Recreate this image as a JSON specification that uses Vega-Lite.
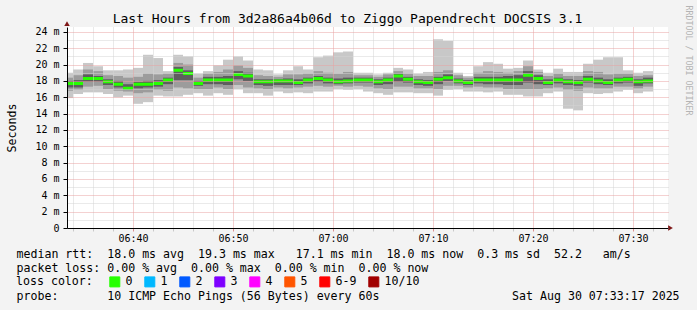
{
  "$schema": "https://vega.github.io/schema/vega-lite/v6.json",
  "width": 601,
  "height": 201,
  "autosize": {"type": "none"},
  "padding": {"left": 67, "top": 27, "right": 29, "bottom": 82},
  "background": "#f3f3f3",
  "config": {"font": "DejaVu Sans Mono", "view": {"fill": "white", "stroke": null}},
  "title": {
    "text": "Last Hours from 3d2a86a4b06d to Ziggo Papendrecht DOCSIS 3.1",
    "font": "DejaVu Sans Mono", "fontSize": 13, "fontWeight": "normal", "color": "#000000",
    "anchor": "middle", "frame": "group", "dx": -20, "baseline": "alphabetic", "offset": -31
  },
  "data": {"values": [
    {"t":"2025-08-30T06:33:00Z","t2":"2025-08-30T06:34:00Z","lo1":15.9,"lo2":16.8,"lo3":17.2,"med":17.7,"hi3":18.0,"hi2":18.4,"hi1":19.0,"loss":"0"},
    {"t":"2025-08-30T06:34:00Z","t2":"2025-08-30T06:35:00Z","lo1":16.4,"lo2":16.9,"lo3":17.2,"med":17.7,"hi3":18.1,"hi2":18.7,"hi1":19.4,"loss":"0"},
    {"t":"2025-08-30T06:35:00Z","t2":"2025-08-30T06:36:00Z","lo1":16.6,"lo2":17.3,"lo3":17.9,"med":18.3,"hi3":18.8,"hi2":19.4,"hi1":20.2,"loss":"0"},
    {"t":"2025-08-30T06:36:00Z","t2":"2025-08-30T06:37:00Z","lo1":16.6,"lo2":17.4,"lo3":17.9,"med":18.3,"hi3":18.6,"hi2":19.2,"hi1":19.8,"loss":"0"},
    {"t":"2025-08-30T06:37:00Z","t2":"2025-08-30T06:38:00Z","lo1":16.4,"lo2":17.0,"lo3":17.5,"med":17.9,"hi3":18.2,"hi2":18.7,"hi1":19.3,"loss":"0"},
    {"t":"2025-08-30T06:38:00Z","t2":"2025-08-30T06:39:00Z","lo1":16.0,"lo2":16.8,"lo3":17.2,"med":17.6,"hi3":18.0,"hi2":18.6,"hi1":19.3,"loss":"0"},
    {"t":"2025-08-30T06:39:00Z","t2":"2025-08-30T06:40:00Z","lo1":16.2,"lo2":16.7,"lo3":16.9,"med":17.1,"hi3":17.6,"hi2":18.4,"hi1":19.4,"loss":"0"},
    {"t":"2025-08-30T06:40:00Z","t2":"2025-08-30T06:41:00Z","lo1":15.2,"lo2":16.5,"lo3":17.1,"med":17.6,"hi3":17.9,"hi2":18.5,"hi1":19.6,"loss":"0"},
    {"t":"2025-08-30T06:41:00Z","t2":"2025-08-30T06:42:00Z","lo1":15.4,"lo2":16.6,"lo3":17.2,"med":17.6,"hi3":18.0,"hi2":18.9,"hi1":21.2,"loss":"0"},
    {"t":"2025-08-30T06:42:00Z","t2":"2025-08-30T06:43:00Z","lo1":16.2,"lo2":16.9,"lo3":17.3,"med":17.7,"hi3":18.1,"hi2":18.8,"hi1":20.8,"loss":"0"},
    {"t":"2025-08-30T06:43:00Z","t2":"2025-08-30T06:44:00Z","lo1":16.1,"lo2":16.8,"lo3":17.6,"med":18.1,"hi3":18.4,"hi2":18.9,"hi1":19.2,"loss":"0"},
    {"t":"2025-08-30T06:44:00Z","t2":"2025-08-30T06:45:00Z","lo1":16.1,"lo2":17.2,"lo3":18.1,"med":19.3,"hi3":19.7,"hi2":20.2,"hi1":21.2,"loss":"0"},
    {"t":"2025-08-30T06:45:00Z","t2":"2025-08-30T06:46:00Z","lo1":16.3,"lo2":17.1,"lo3":18.1,"med":18.9,"hi3":19.3,"hi2":20.0,"hi1":21.0,"loss":"0"},
    {"t":"2025-08-30T06:46:00Z","t2":"2025-08-30T06:47:00Z","lo1":16.5,"lo2":17.0,"lo3":17.4,"med":17.7,"hi3":18.0,"hi2":18.4,"hi1":18.9,"loss":"0"},
    {"t":"2025-08-30T06:47:00Z","t2":"2025-08-30T06:48:00Z","lo1":16.2,"lo2":17.0,"lo3":17.6,"med":18.1,"hi3":18.5,"hi2":18.9,"hi1":19.2,"loss":"0"},
    {"t":"2025-08-30T06:48:00Z","t2":"2025-08-30T06:49:00Z","lo1":16.5,"lo2":17.2,"lo3":17.6,"med":18.1,"hi3":18.5,"hi2":19.1,"hi1":19.9,"loss":"0"},
    {"t":"2025-08-30T06:49:00Z","t2":"2025-08-30T06:50:00Z","lo1":16.3,"lo2":17.0,"lo3":17.5,"med":18.1,"hi3":18.6,"hi2":19.4,"hi1":20.6,"loss":"0"},
    {"t":"2025-08-30T06:50:00Z","t2":"2025-08-30T06:51:00Z","lo1":17.0,"lo2":17.5,"lo3":18.2,"med":18.8,"hi3":19.2,"hi2":19.9,"hi1":21.0,"loss":"0"},
    {"t":"2025-08-30T06:51:00Z","t2":"2025-08-30T06:52:00Z","lo1":16.5,"lo2":17.2,"lo3":18.0,"med":18.6,"hi3":19.0,"hi2":19.6,"hi1":20.5,"loss":"0"},
    {"t":"2025-08-30T06:52:00Z","t2":"2025-08-30T06:53:00Z","lo1":16.5,"lo2":17.1,"lo3":17.5,"med":17.9,"hi3":18.2,"hi2":18.7,"hi1":19.4,"loss":"0"},
    {"t":"2025-08-30T06:53:00Z","t2":"2025-08-30T06:54:00Z","lo1":16.2,"lo2":17.0,"lo3":17.4,"med":17.9,"hi3":18.2,"hi2":18.6,"hi1":19.3,"loss":"0"},
    {"t":"2025-08-30T06:54:00Z","t2":"2025-08-30T06:55:00Z","lo1":16.7,"lo2":17.2,"lo3":17.5,"med":18.0,"hi3":18.2,"hi2":18.5,"hi1":18.8,"loss":"0"},
    {"t":"2025-08-30T06:55:00Z","t2":"2025-08-30T06:56:00Z","lo1":16.5,"lo2":17.1,"lo3":17.5,"med":18.0,"hi3":18.3,"hi2":18.8,"hi1":19.3,"loss":"0"},
    {"t":"2025-08-30T06:56:00Z","t2":"2025-08-30T06:57:00Z","lo1":16.6,"lo2":17.2,"lo3":17.5,"med":17.8,"hi3":18.2,"hi2":18.8,"hi1":19.8,"loss":"0"},
    {"t":"2025-08-30T06:57:00Z","t2":"2025-08-30T06:58:00Z","lo1":16.5,"lo2":17.3,"lo3":17.7,"med":18.1,"hi3":18.4,"hi2":18.9,"hi1":19.4,"loss":"0"},
    {"t":"2025-08-30T06:58:00Z","t2":"2025-08-30T06:59:00Z","lo1":16.7,"lo2":17.4,"lo3":17.9,"med":18.3,"hi3":18.6,"hi2":19.2,"hi1":20.9,"loss":"0"},
    {"t":"2025-08-30T06:59:00Z","t2":"2025-08-30T07:00:00Z","lo1":16.7,"lo2":17.3,"lo3":17.7,"med":18.1,"hi3":18.4,"hi2":19.0,"hi1":21.1,"loss":"0"},
    {"t":"2025-08-30T07:00:00Z","t2":"2025-08-30T07:01:00Z","lo1":17.0,"lo2":17.4,"lo3":17.6,"med":17.9,"hi3":18.3,"hi2":18.9,"hi1":21.5,"loss":"0"},
    {"t":"2025-08-30T07:01:00Z","t2":"2025-08-30T07:02:00Z","lo1":16.9,"lo2":17.3,"lo3":17.7,"med":18.0,"hi3":18.4,"hi2":19.1,"hi1":21.6,"loss":"0"},
    {"t":"2025-08-30T07:02:00Z","t2":"2025-08-30T07:03:00Z","lo1":17.0,"lo2":17.4,"lo3":17.8,"med":18.1,"hi3":18.4,"hi2":18.7,"hi1":19.0,"loss":"0"},
    {"t":"2025-08-30T07:03:00Z","t2":"2025-08-30T07:04:00Z","lo1":16.7,"lo2":17.3,"lo3":17.8,"med":18.1,"hi3":18.4,"hi2":18.7,"hi1":19.0,"loss":"0"},
    {"t":"2025-08-30T07:04:00Z","t2":"2025-08-30T07:05:00Z","lo1":16.5,"lo2":17.1,"lo3":17.5,"med":17.9,"hi3":18.2,"hi2":18.5,"hi1":18.8,"loss":"0"},
    {"t":"2025-08-30T07:05:00Z","t2":"2025-08-30T07:06:00Z","lo1":16.3,"lo2":17.0,"lo3":17.6,"med":18.1,"hi3":18.4,"hi2":18.8,"hi1":19.0,"loss":"0"},
    {"t":"2025-08-30T07:06:00Z","t2":"2025-08-30T07:07:00Z","lo1":16.6,"lo2":17.3,"lo3":17.9,"med":18.6,"hi3":18.9,"hi2":19.2,"hi1":19.6,"loss":"0"},
    {"t":"2025-08-30T07:07:00Z","t2":"2025-08-30T07:08:00Z","lo1":16.6,"lo2":17.3,"lo3":17.8,"med":18.2,"hi3":18.5,"hi2":18.9,"hi1":19.4,"loss":"0"},
    {"t":"2025-08-30T07:08:00Z","t2":"2025-08-30T07:09:00Z","lo1":16.5,"lo2":17.1,"lo3":17.5,"med":17.9,"hi3":18.2,"hi2":18.6,"hi1":18.9,"loss":"0"},
    {"t":"2025-08-30T07:09:00Z","t2":"2025-08-30T07:10:00Z","lo1":16.5,"lo2":17.1,"lo3":17.4,"med":17.8,"hi3":18.1,"hi2":18.6,"hi1":19.1,"loss":"0"},
    {"t":"2025-08-30T07:10:00Z","t2":"2025-08-30T07:11:00Z","lo1":16.2,"lo2":17.0,"lo3":17.6,"med":18.2,"hi3":18.5,"hi2":19.1,"hi1":23.1,"loss":"0"},
    {"t":"2025-08-30T07:11:00Z","t2":"2025-08-30T07:12:00Z","lo1":16.9,"lo2":17.4,"lo3":18.0,"med":18.4,"hi3":18.8,"hi2":19.3,"hi1":22.9,"loss":"0"},
    {"t":"2025-08-30T07:12:00Z","t2":"2025-08-30T07:13:00Z","lo1":17.0,"lo2":17.4,"lo3":17.7,"med":18.0,"hi3":18.3,"hi2":18.7,"hi1":19.0,"loss":"0"},
    {"t":"2025-08-30T07:13:00Z","t2":"2025-08-30T07:14:00Z","lo1":16.7,"lo2":17.2,"lo3":17.5,"med":17.8,"hi3":18.1,"hi2":18.4,"hi1":18.6,"loss":"0"},
    {"t":"2025-08-30T07:14:00Z","t2":"2025-08-30T07:15:00Z","lo1":16.7,"lo2":17.3,"lo3":17.7,"med":18.1,"hi3":18.5,"hi2":19.0,"hi1":19.8,"loss":"0"},
    {"t":"2025-08-30T07:15:00Z","t2":"2025-08-30T07:16:00Z","lo1":16.6,"lo2":17.2,"lo3":17.6,"med":18.1,"hi3":18.5,"hi2":19.2,"hi1":20.3,"loss":"0"},
    {"t":"2025-08-30T07:16:00Z","t2":"2025-08-30T07:17:00Z","lo1":16.7,"lo2":17.2,"lo3":17.6,"med":18.1,"hi3":18.5,"hi2":19.1,"hi1":20.1,"loss":"0"},
    {"t":"2025-08-30T07:17:00Z","t2":"2025-08-30T07:18:00Z","lo1":16.3,"lo2":17.0,"lo3":17.5,"med":18.1,"hi3":18.6,"hi2":19.0,"hi1":19.5,"loss":"0"},
    {"t":"2025-08-30T07:18:00Z","t2":"2025-08-30T07:19:00Z","lo1":16.3,"lo2":17.0,"lo3":17.5,"med":18.1,"hi3":18.7,"hi2":19.2,"hi1":19.6,"loss":"0"},
    {"t":"2025-08-30T07:19:00Z","t2":"2025-08-30T07:20:00Z","lo1":16.1,"lo2":17.0,"lo3":17.8,"med":18.7,"hi3":19.2,"hi2":19.8,"hi1":20.5,"loss":"0"},
    {"t":"2025-08-30T07:20:00Z","t2":"2025-08-30T07:21:00Z","lo1":16.1,"lo2":17.0,"lo3":17.6,"med":18.3,"hi3":18.7,"hi2":19.1,"hi1":19.4,"loss":"0"},
    {"t":"2025-08-30T07:21:00Z","t2":"2025-08-30T07:22:00Z","lo1":16.5,"lo2":17.1,"lo3":17.5,"med":17.8,"hi3":18.2,"hi2":18.6,"hi1":19.0,"loss":"0"},
    {"t":"2025-08-30T07:22:00Z","t2":"2025-08-30T07:23:00Z","lo1":16.7,"lo2":17.2,"lo3":17.7,"med":18.1,"hi3":18.4,"hi2":18.9,"hi1":19.5,"loss":"0"},
    {"t":"2025-08-30T07:23:00Z","t2":"2025-08-30T07:24:00Z","lo1":14.6,"lo2":16.9,"lo3":17.5,"med":17.9,"hi3":18.2,"hi2":18.6,"hi1":19.1,"loss":"0"},
    {"t":"2025-08-30T07:24:00Z","t2":"2025-08-30T07:25:00Z","lo1":14.4,"lo2":16.8,"lo3":17.4,"med":17.8,"hi3":18.1,"hi2":18.6,"hi1":19.1,"loss":"0"},
    {"t":"2025-08-30T07:25:00Z","t2":"2025-08-30T07:26:00Z","lo1":16.5,"lo2":17.2,"lo3":17.8,"med":18.2,"hi3":18.6,"hi2":19.2,"hi1":20.1,"loss":"0"},
    {"t":"2025-08-30T07:26:00Z","t2":"2025-08-30T07:27:00Z","lo1":16.4,"lo2":17.1,"lo3":17.6,"med":18.0,"hi3":18.4,"hi2":19.1,"hi1":20.6,"loss":"0"},
    {"t":"2025-08-30T07:27:00Z","t2":"2025-08-30T07:28:00Z","lo1":16.5,"lo2":17.1,"lo3":17.5,"med":17.8,"hi3":18.2,"hi2":18.8,"hi1":20.9,"loss":"0"},
    {"t":"2025-08-30T07:28:00Z","t2":"2025-08-30T07:29:00Z","lo1":16.7,"lo2":17.3,"lo3":17.7,"med":18.1,"hi3":18.4,"hi2":18.9,"hi1":20.9,"loss":"0"},
    {"t":"2025-08-30T07:29:00Z","t2":"2025-08-30T07:30:00Z","lo1":16.9,"lo2":17.3,"lo3":17.8,"med":18.2,"hi3":18.5,"hi2":18.9,"hi1":19.3,"loss":"0"},
    {"t":"2025-08-30T07:30:00Z","t2":"2025-08-30T07:31:00Z","lo1":16.5,"lo2":17.1,"lo3":17.4,"med":17.9,"hi3":18.2,"hi2":18.6,"hi1":19.0,"loss":"0"},
    {"t":"2025-08-30T07:31:00Z","t2":"2025-08-30T07:32:00Z","lo1":16.7,"lo2":17.3,"lo3":17.7,"med":18.0,"hi3":18.4,"hi2":18.7,"hi1":19.2,"loss":"0"}
  ]},
  "layer": [
    {
      "mark": {"type": "rect", "color": "#c8c8c8", "clip": true},
      "encoding": {
        "x": {
          "field": "t", "type": "temporal",
          "scale": {"type": "utc", "domain": [1756535604000, 1756539210000]},
          "axis": {
            "orient": "bottom",
            "values": [1756536000000, 1756536600000, 1756537200000, 1756537800000, 1756538400000, 1756539000000],
            "labelExpr": "utcFormat(datum.value, '%H:%M')",
            "labelFont": "DejaVu Sans Mono", "labelFontSize": 10, "labelColor": "#000000",
            "labelPadding": 10.5, "labelBaseline": "alphabetic", "labelFlush": false, "labelOverlap": false, "labelAngle": 0,
            "tickSize": 3, "tickColor": "#d98c8c",
            "domainColor": "#000000", "domainWidth": 1,
            "grid": true, "gridColor": "#e9a3a3", "gridDash": [1, 1], "gridOpacity": 1, "gridWidth": 1,
            "title": [
              "median rtt:\u00a0\u00a018.0 ms avg\u00a0\u00a019.3 ms max\u00a0\u00a0\u00a017.1 ms min\u00a0\u00a018.0 ms now\u00a0\u00a00.3 ms sd\u00a0\u00a052.2\u00a0\u00a0\u00a0am/s",
              "packet loss:\u00a00.00 % avg\u00a0\u00a00.00 % max\u00a0\u00a00.00 % min\u00a0\u00a00.00 % now"
            ],
            "titleFont": "DejaVu Sans Mono", "titleFontSize": 11.6, "titleFontWeight": "normal", "titleColor": "#000000",
            "titleX": -51, "titleY": 29.7, "titleAlign": "left", "titleBaseline": "alphabetic", "titleLineHeight": 14,
            "zindex": 2
          }
        },
        "x2": {"field": "t2"},
        "y": {
          "field": "lo1", "type": "quantitative",
          "scale": {"domain": [0, 24.6], "nice": false, "zero": false},
          "axis": {
            "orient": "left",
            "values": [0,1,2,3,4,5,6,7,8,9,10,11,12,13,14,15,16,17,18,19,20,21,22,23,24],
            "labelExpr": "datum.value % 2 !== 0 ? '' : (datum.value === 0 ? '0' : datum.value + ' m')",
            "labelFont": "DejaVu Sans Mono", "labelFontSize": 10, "labelColor": "#000000",
            "labelPadding": 4, "labelOverlap": false, "labelFlush": false,
            "tickSize": 4,
            "tickColor": {"condition": {"test": "datum.value % 2 === 0", "value": "#000000"}, "value": "transparent"},
            "domainColor": "#000000", "domainWidth": 1,
            "grid": true,
            "gridColor": {"condition": {"test": "datum.value % 2 === 0 && datum.value > 0", "value": "#e9a3a3"}, "value": "#d4d4d4"},
            "gridDash": [1, 1], "gridWidth": 1, "gridOpacity": 1,
            "title": "Seconds",
            "titleFont": "DejaVu Sans Mono", "titleFontSize": 11.6, "titleFontWeight": "normal", "titleColor": "#000000",
            "titleX": -52, "titleY": 100.5, "titleAngle": -90, "titleAlign": "center", "titleBaseline": "alphabetic",
            "zindex": 1
          }
        },
        "y2": {"field": "hi1"}
      }
    },
    {
      "mark": {"type": "rect", "color": "#9c9c9c", "clip": true},
      "encoding": {
        "x": {"field": "t", "type": "temporal", "axis": null},
        "x2": {"field": "t2"},
        "y": {
          "field": "lo2", "type": "quantitative",
          "axis": {
            "orient": "right", "title": "RRDTOOL / TOBI OETIKER",
            "labels": false, "ticks": false, "domain": false, "grid": false,
            "titleAngle": 90, "titleX": 17, "titleY": 33, "titleAlign": "center", "titleBaseline": "alphabetic",
            "titleFont": "DejaVu Sans Mono", "titleFontSize": 8.3, "titleFontWeight": "normal", "titleColor": "#b4b4b4"
          }
        },
        "y2": {"field": "hi2"}
      }
    },
    {
      "mark": {"type": "rect", "color": "#5e5e5e", "clip": true},
      "encoding": {
        "x": {
          "field": "t", "type": "temporal",
          "axis": {
            "orient": "bottom",
            "values": [1756535640000,1756535760000,1756535880000,1756536120000,1756536240000,1756536360000,1756536480000,1756536720000,1756536840000,1756536960000,1756537080000,1756537320000,1756537440000,1756537560000,1756537680000,1756537920000,1756538040000,1756538160000,1756538280000,1756538520000,1756538640000,1756538760000,1756538880000,1756539120000],
            "labels": false, "domain": false,
            "ticks": true, "tickSize": 3, "tickColor": "#c8c8c8",
            "grid": true, "gridColor": "#d4d4d4", "gridDash": [1, 1], "gridOpacity": 1, "gridWidth": 1,
            "title": "probe:\u00a0\u00a0\u00a0\u00a0\u00a0\u00a0\u00a010 ICMP Echo Pings (56 Bytes) every 60s\u00a0\u00a0\u00a0\u00a0\u00a0\u00a0\u00a0\u00a0\u00a0\u00a0\u00a0\u00a0\u00a0\u00a0\u00a0\u00a0\u00a0\u00a0\u00a0Sat Aug 30 07:33:17 2025",
            "titleFont": "DejaVu Sans Mono", "titleFontSize": 11.6, "titleFontWeight": "normal", "titleColor": "#000000",
            "titleX": -51, "titleY": 71.7, "titleAlign": "left", "titleBaseline": "alphabetic",
            "zindex": 1
          }
        },
        "x2": {"field": "t2"},
        "y": {"field": "lo3", "type": "quantitative", "axis": null},
        "y2": {"field": "hi3"}
      }
    },
    {
      "mark": {"type": "rect", "strokeWidth": 3, "clip": true},
      "encoding": {
        "x": {"field": "t", "type": "temporal", "axis": null},
        "x2": {"field": "t2"},
        "y": {"field": "med", "type": "quantitative", "axis": null},
        "y2": {"field": "med"},
        "stroke": {
          "field": "loss", "type": "nominal", "legend": null,
          "scale": {
            "domain": ["0", "1", "2", "3", "4", "5", "6-9", "10/10"],
            "range": ["#26ff00", "#00b8ff", "#0059ff", "#7e00ff", "#ff00ff", "#ff5500", "#ff0000", "#a10000"]
          }
        },
        "color": {
          "field": "loss", "type": "nominal",
          "scale": {
            "domain": ["0", "1", "2", "3", "4", "5", "6-9", "10/10"],
            "range": ["#26ff00", "#00b8ff", "#0059ff", "#7e00ff", "#ff00ff", "#ff5500", "#ff0000", "#a10000"]
          },
          "legend": {
            "title": "loss color:", "orient": "none", "legendX": -51, "legendY": 249,
            "direction": "horizontal", "titleOrient": "left", "titlePadding": 16,
            "symbolType": "square", "symbolSize": 100, "symbolStrokeColor": "#000000", "symbolStrokeWidth": 1,
            "labelFont": "DejaVu Sans Mono", "labelFontSize": 11.6, "labelColor": "#000000", "labelOffset": 5,
            "columnPadding": 9, "padding": 0,
            "titleFont": "DejaVu Sans Mono", "titleFontSize": 11.6, "titleFontWeight": "normal", "titleColor": "#000000",
            "encode": {"symbols": {"update": {"stroke": {"value": "#000000"}, "strokeWidth": {"value": 1}}}}
          }
        }
      }
    },
    {
      "data": {"values": [{}]},
      "mark": {"type": "point", "shape": "triangle-up", "filled": true, "color": "#7f1818", "size": 30, "opacity": 1},
      "encoding": {
        "x": {"datum": 1756535604000, "type": "temporal", "axis": null},
        "y": {"datum": 25.0, "type": "quantitative", "axis": null}
      }
    },
    {
      "data": {"values": [{}]},
      "mark": {"type": "point", "shape": "triangle-right", "filled": true, "color": "#7f1818", "size": 30, "opacity": 1},
      "encoding": {
        "x": {"datum": 1756539225000, "type": "temporal", "axis": null},
        "y": {"datum": 0, "type": "quantitative", "axis": null}
      }
    }
  ],
  "resolve": {"axis": {"x": "independent", "y": "independent"}}
}
